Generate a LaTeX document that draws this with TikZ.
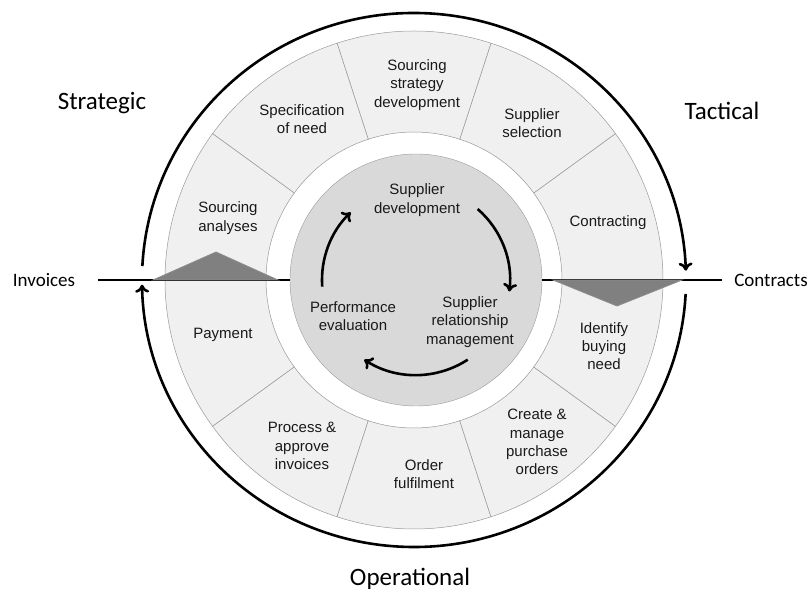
\documentclass[tikz,border=0pt]{standalone}
\usepackage{fontspec}
\setmainfont{Liberation Sans}
\newfontfamily\calibri{Carlito}
\usepackage{tikz}
\usetikzlibrary{arrows.meta}

\begin{document}
\begin{tikzpicture}[x=1pt, y=1pt,
    every node/.style={font=\fontsize{15}{18.3}\selectfont, align=center, text=black!90},
    phase/.style={font=\calibri\fontsize{25}{30}\selectfont, text=black},
    flow/.style={font=\calibri\fontsize{19}{23}\selectfont, text=black},
    cyc/.style={line width=2.6pt, -{To[length=8pt, width=14pt]}}]
    \useasboundingbox (-414,-313) rectangle (396,280);

    % Ring of steps
    \foreach \a [evaluate=\a as \b using \a+36] in {0,36,...,324}
        \draw[draw=black!40, fill=black!6, line width=0.5pt]
            (\a:148) arc[start angle=\a, end angle=\b, radius=148]
            -- (\b:249) arc[start angle=\b, end angle=\a, radius=249] -- cycle;

    % Core
    \node[circle, draw=black!40, fill=black!15, minimum size=252pt, inner sep=0pt] (core) at (2,0) {};

    % Divide
    \node[flow] (inv) at (-370,0) {Invoices};
    \node[flow] (con) at (357,0) {Contracts};
    \coordinate (invend) at (-316,0);
    \coordinate (conend) at (308,0);
    \draw[line width=1.3pt] (invend) -- (core.west);
    \draw[line width=1.3pt] (core.east) -- (conend);
    \filldraw[fill=black!50, draw=black!45, line width=0.8pt] (-261,0) -- (-198,28) -- (-136,0) -- cycle;
    \filldraw[fill=black!50, draw=black!45, line width=0.8pt] (139,0) -- (203,-26) -- (268,0) -- cycle;

    % Phases
    \node[phase] (strat) at (-312,177) {Strategic};
    \node[phase] (tact) at (308,169) {Tactical};
    \node[phase] (oper) at (-4,-299) {Operational};

    % Outer cycle
    \draw[cyc] (177:272 and 267) arc[start angle=177, end angle=2, x radius=272, y radius=267];
    \draw[cyc] (-3:272 and 267) arc[start angle=-3, end angle=-179, x radius=272, y radius=267];

    % Steps
    \node (sanal) at (-186,62) {Sourcing\\analyses};
    \node (spec) at (-112,161) {Specification\\of need};
    \node (sstrat) at (3,195) {Sourcing\\strategy\\development};
    \node (ssel) at (118,157) {Supplier\\selection};
    \node (contr) at (194,57) {Contracting};
    \node (ident) at (190,-66) {Identify\\buying\\need};
    \node (create) at (123,-162) {Create \&\\manage\\purchase\\orders};
    \node (order) at (10,-194) {Order\\fulfilment};
    \node (proc) at (-112,-166) {Process \&\\approve\\invoices};
    \node (pay) at (-191,-55) {Payment};

    % Supplier relationship
    \node (sdev) at (3,80) {Supplier\\development};
    \node (srm) at (56,-42) {Supplier\\relationship\\management};
    \node (peval) at (-61,-36) {Performance\\evaluation};
    \draw[cyc] ([shift={(184:94)}]core.center) arc[start angle=184, end angle=134, radius=94];
    \draw[cyc] ([shift={(49:94)}]core.center) arc[start angle=49, end angle=-7, radius=94];
    \draw[cyc] ([shift={(-57:95)}]core.center) arc[start angle=-57, end angle=-123, radius=95];
\end{tikzpicture}
\end{document}
